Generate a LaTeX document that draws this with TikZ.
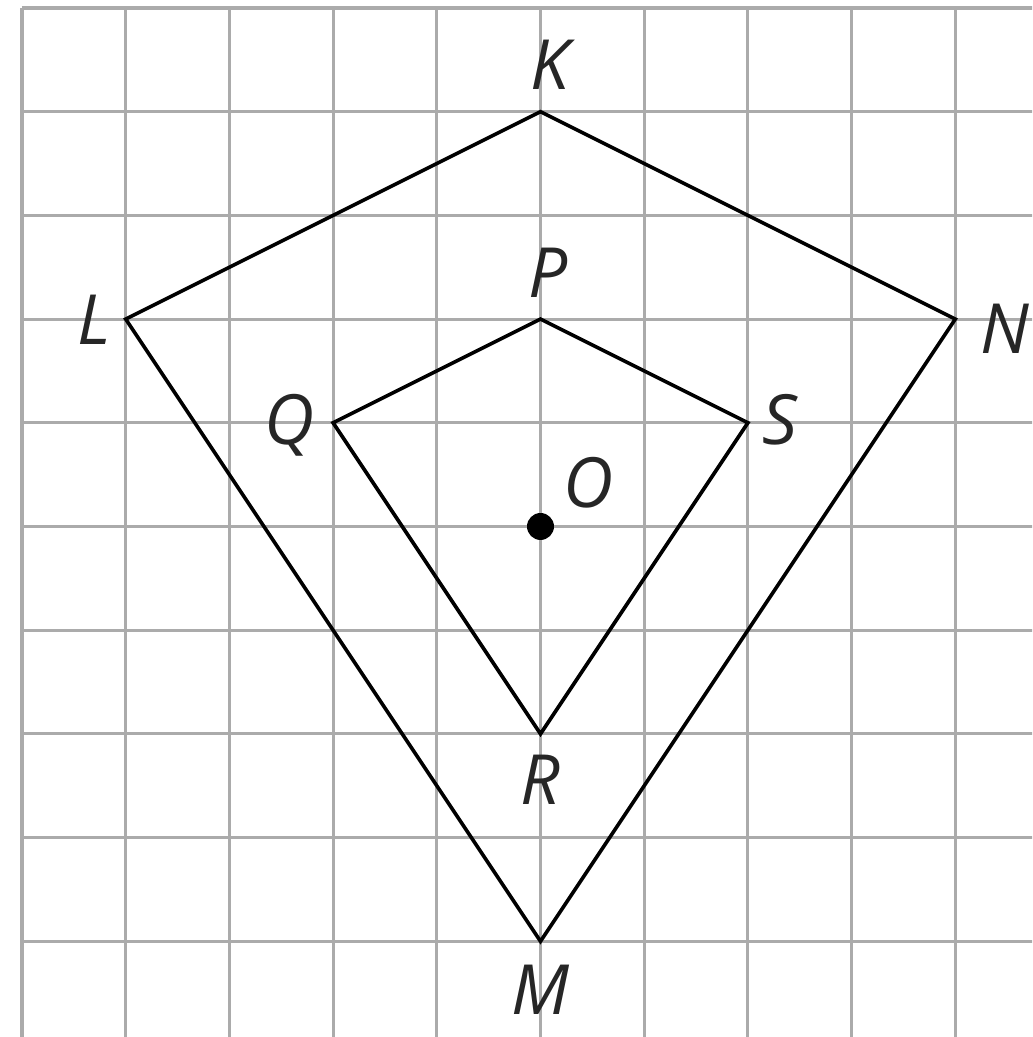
\documentclass[tikz,border=0pt]{standalone}
\usepackage{fontspec}
\setmainfont{Open Sans}
\begin{document}
\begin{tikzpicture}[x=1cm,y=1cm,
  gridline/.style={draw=black!33, line width=0.85pt},
  edge/.style={draw=black, line width=1.0pt, line join=miter},
  lbl/.style={font=\fontsize{19}{21}\selectfont\itshape, text=black!85, inner sep=0pt}]
\useasboundingbox (-0.212,0.077) rectangle (9.74,-9.923);
\clip (-0.212,0.077) rectangle (9.74,-9.923);
\fill[white] (-0.212,0.077) rectangle (9.74,-9.923);
\draw[gridline] (0,-11) grid (11,0);
\coordinate (K) at (5,-1);
\coordinate (L) at (1,-3);
\coordinate (N) at (9,-3);
\coordinate (M) at (5,-9);
\coordinate (P) at (5,-3);
\coordinate (Q) at (3,-4);
\coordinate (S) at (7,-4);
\coordinate (R) at (5,-7);
\coordinate (O) at (5,-5);
\draw[edge] (K) -- (N) -- (M) -- (L) -- cycle;
\draw[edge] (P) -- (S) -- (R) -- (Q) -- cycle;
\fill[black] (O) circle (0.13);
\node[lbl] (lK) at (5.09,-0.55) {K};
\node[lbl] (lL) at (0.70,-3.01) {L};
\node[lbl] (lP) at (5.07,-2.55) {P};
\node[lbl] (lN) at (9.48,-3.09) {N};
\node[lbl] (lQ) at (2.58,-4.02) {Q};
\node[lbl] (lS) at (7.31,-3.97) {S};
\node[lbl] (lO) at (5.46,-4.58) {O};
\node[lbl] (lR) at (5.0,-7.44) {R};
\node[lbl] (lM) at (5.0,-9.47) {M};
\end{tikzpicture}
\end{document}
